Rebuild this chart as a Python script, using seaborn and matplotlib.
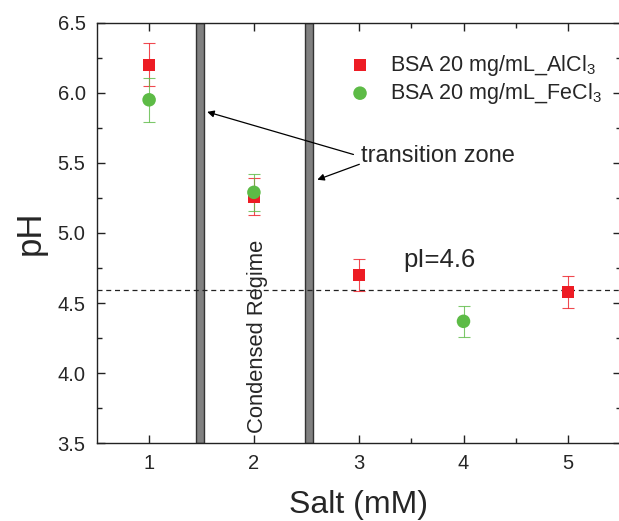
import numpy as np
import pandas as pd
import seaborn as sns
import matplotlib
matplotlib.use('Agg')
import matplotlib.pyplot as plt

# Data
salt_al = [1, 2, 3, 5]
ph_al = [6.20, 5.26, 4.70, 4.58]
err_al = [0.155, 0.13, 0.115, 0.115]

salt_fe = [1, 2, 4]
ph_fe = [5.95, 5.29, 4.37]
err_fe = [0.155, 0.13, 0.11]

transition_x = [1.484, 2.524]
pI = 4.59

red = '#ed1c24'
green = '#5dbb46'

sns.set_style('ticks')
plt.rcParams['font.family'] = ['Liberation Sans', 'DejaVu Sans']
plt.rcParams['mathtext.fontset'] = 'custom'
plt.rcParams['mathtext.rm'] = 'Liberation Sans'
plt.rcParams['mathtext.it'] = 'Liberation Sans'

fig = plt.figure(figsize=(6.19, 5.21), dpi=100)
ax = fig.add_axes([96.7/619, 1-443.3/521, (620.7-96.7)/619, 420.6/521])

# transition zone bars
for xv in transition_x:
    ax.axvspan(xv-0.036, xv+0.036, fc='#808080', ec='#333333', lw=1.0, zorder=1)

ax.axhline(pI, color='#222222', ls=(0, (4, 3)), lw=0.9, zorder=1)

df_al = pd.DataFrame({'salt': salt_al, 'pH': ph_al})
df_fe = pd.DataFrame({'salt': salt_fe, 'pH': ph_fe})

ax.errorbar(salt_al, ph_al, yerr=err_al, fmt='none', ecolor=red, elinewidth=0.8, capsize=4, capthick=0.8, zorder=2, alpha=0.8)
ax.errorbar(salt_fe, ph_fe, yerr=err_fe, fmt='none', ecolor=green, elinewidth=0.8, capsize=4, capthick=0.8, zorder=2, alpha=0.8)
sns.scatterplot(data=df_al, x='salt', y='pH', marker='s', s=78, color=red, edgecolor='none', ax=ax, zorder=3,
                label='BSA 20 mg/mL_AlCl$_3$')
sns.scatterplot(data=df_fe, x='salt', y='pH', marker='o', s=95, color=green, edgecolor='none', ax=ax, zorder=4,
                label='BSA 20 mg/mL_FeCl$_3$')

ax.set_xlim(0.5, 5.5)
ax.set_ylim(3.5, 6.5)
ax.set_xticks([1, 2, 3, 4, 5])
ax.set_xticks([1.5, 2.5, 3.5, 4.5], minor=True)
ax.set_yticks(np.arange(3.5, 6.51, 0.5))
ax.set_yticks(np.arange(3.75, 6.5, 0.5), minor=True)
ax.set_yticklabels(['3.5', '4.0', '4.5', '5.0', '5.5', '6.0', '6.5'])
ax.tick_params(which='both', direction='in', top=True, right=True, labelsize=14.5, color='#222222', width=1, pad=8)
ax.tick_params(which='major', length=6)
ax.tick_params(which='minor', length=3.5)
for s in ax.spines.values():
    s.set_linewidth(1.0)
    s.set_color('#222222')

ax.set_xlabel('Salt (mM)', fontsize=23, labelpad=12)
ax.set_ylabel('pH', fontsize=25, labelpad=8)

leg = ax.legend(loc='upper left', bbox_to_anchor=(0.445, 0.975), frameon=False, fontsize=15.5,
                handlelength=1.0, handletextpad=0.9, labelspacing=0.15, markerscale=1.0)

ax.text(2.03, 3.57, 'Condensed Regime', rotation=90, ha='center', va='bottom', fontsize=15.8, zorder=5)
ax.text(3.02, 5.55, 'transition zone', ha='left', va='center', fontsize=17)
ax.text(3.43, 4.81, 'pI=4.6', ha='left', va='center', fontsize=18.5)

arrow = dict(arrowstyle='-|>', color='black', lw=0.9, mutation_scale=10, shrinkA=0, shrinkB=0)
ax.annotate('', xy=(1.554, 5.864), xytext=(2.95, 5.56), arrowprops=arrow)
ax.annotate('', xy=(2.605, 5.38), xytext=(3.006, 5.49), arrowprops=arrow)

fig.savefig('out.png', dpi=100)
